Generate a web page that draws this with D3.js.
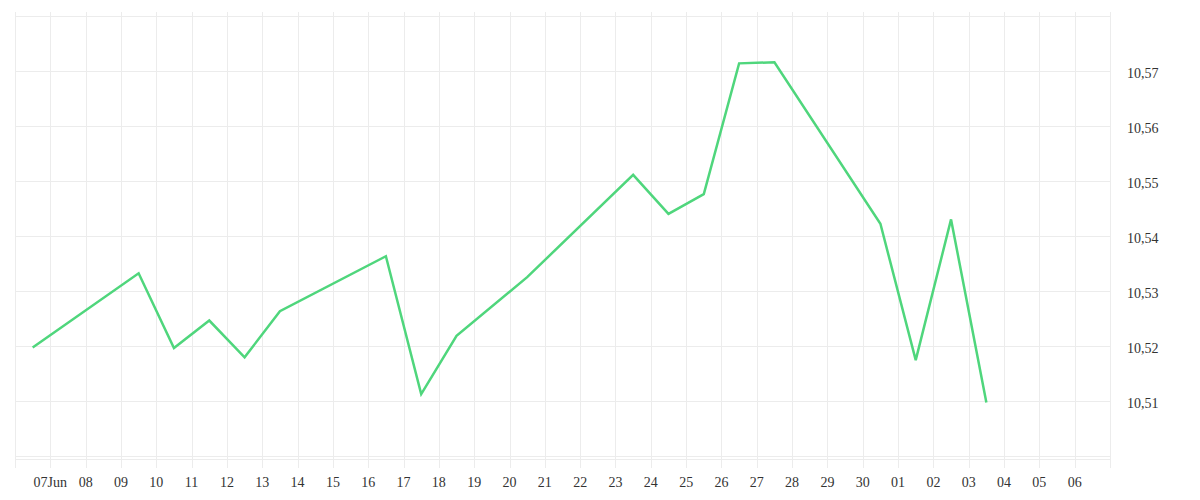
<!DOCTYPE html>
<html>
<head>
<meta charset="utf-8">
<script src="https://cdn.jsdelivr.net/npm/d3@7"></script>
<style>
  html, body { margin: 0; padding: 0; background: #fff; }
  svg text { font-family: "Liberation Serif", "DejaVu Serif", serif; font-size: 14px; fill: #333; }
</style>
</head>
<body>
<svg id="chart" width="1200" height="500"></svg>
<script>
// Data (dates are trading days, plotted at midday)
const dates = [
  "2025-06-06","2025-06-09","2025-06-10","2025-06-11","2025-06-12","2025-06-13",
  "2025-06-16","2025-06-17","2025-06-18","2025-06-20",
  "2025-06-23","2025-06-24","2025-06-25","2025-06-26","2025-06-27",
  "2025-06-30","2025-07-01","2025-07-02","2025-07-03"
];
const values = [
  10.5197, 10.5332, 10.5196, 10.5246, 10.5179, 10.5263,
  10.5363, 10.5112, 10.5218, 10.5325,
  10.5511, 10.5440, 10.5476, 10.5714, 10.5716,
  10.5422, 10.5174, 10.5430, 10.5097
];
const yTickValues = [10.50, 10.51, 10.52, 10.53, 10.54, 10.55, 10.56, 10.57, 10.58];
const yTickLabels = ["", "10,51", "10,52", "10,53", "10,54", "10,55", "10,56", "10,57", ""];
const xTickDays = [
  "2025-06-07","2025-06-08","2025-06-09","2025-06-10","2025-06-11","2025-06-12","2025-06-13",
  "2025-06-14","2025-06-15","2025-06-16","2025-06-17","2025-06-18","2025-06-19","2025-06-20",
  "2025-06-21","2025-06-22","2025-06-23","2025-06-24","2025-06-25","2025-06-26","2025-06-27",
  "2025-06-28","2025-06-29","2025-06-30","2025-07-01","2025-07-02","2025-07-03","2025-07-04",
  "2025-07-05","2025-07-06"
];
const xTickLabels = [
  "07Jun","08","09","10","11","12","13","14","15","16","17","18","19","20",
  "21","22","23","24","25","26","27","28","29","30","01","02","03","04","05","06"
];
const xDomain = ["2025-06-06", "2025-07-07"];

const svg = d3.select("#chart");
const left = 15, right = 1110;
const gridTop = 12, gridBottom = 468;

const parse = s => new Date(s + "T00:00:00Z");
const x = d3.scaleUtc().domain(xDomain.map(parse)).range([left, right]);
const y = d3.scaleLinear().domain([10.50, 10.58]).range([455.7, 16.1]);

const gridColor = "#ececec";
const g = svg.append("g");

// vertical gridlines (domain edges + each day)
const vlines = [parse(xDomain[0])].concat(xTickDays.map(parse)).concat([parse(xDomain[1])]);
g.selectAll("line.v").data(vlines).enter().append("line")
  .attr("x1", d => Math.round(x(d)) + 0.5).attr("x2", d => Math.round(x(d)) + 0.5)
  .attr("y1", gridTop).attr("y2", gridBottom)
  .attr("stroke", gridColor).attr("stroke-width", 1);

// horizontal gridlines
g.selectAll("line.h").data(yTickValues).enter().append("line")
  .attr("x1", left).attr("x2", right)
  .attr("y1", d => Math.round(y(d)) + 0.5).attr("y2", d => Math.round(y(d)) + 0.5)
  .attr("stroke", gridColor).attr("stroke-width", 1);

// bottom axis line
g.append("line")
  .attr("x1", left).attr("x2", right)
  .attr("y1", Math.round(y(10.50)) + 3.5).attr("y2", Math.round(y(10.50)) + 3.5)
  .attr("stroke", gridColor).attr("stroke-width", 1);

// y labels (right side)
g.selectAll("text.y").data(yTickValues).enter().append("text")
  .attr("x", 1127).attr("y", d => y(d) + 7)
  .text((d, i) => yTickLabels[i]);

// x labels
g.selectAll("text.x").data(xTickDays).enter().append("text")
  .attr("x", d => x(parse(d)))
  .attr("y", 487)
  .attr("text-anchor", "middle")
  .text((d, i) => xTickLabels[i]);

// line
const pts = dates.map((d, i) => ({ t: new Date(d + "T12:00:00Z"), v: values[i] }));
const line = d3.line().x(d => x(d.t)).y(d => y(d.v));
svg.append("path").datum(pts)
  .attr("d", line)
  .attr("fill", "none")
  .attr("stroke", "#4fd67c")
  .attr("stroke-width", 2.5)
  .attr("stroke-linejoin", "miter");
</script>
</body>
</html>
